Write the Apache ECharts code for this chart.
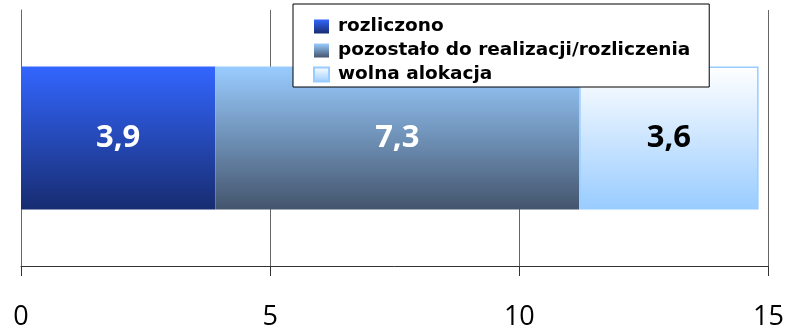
<!DOCTYPE html>
<html>
<head>
<meta charset="utf-8">
<script src="https://cdn.jsdelivr.net/npm/echarts@6/dist/echarts.min.js"></script>
<style>
  html, body { margin: 0; padding: 0; background: #fff; }
  #chart { width: 787px; height: 333px; }
</style>
</head>
<body>
<div id="chart"></div>
<script>
// Stacked horizontal bar: allocation split into three parts
const categories = [''];
const seriesNames = ['rozliczono', 'pozostało do realizacji/rozliczenia', 'wolna alokacja'];
const rozliczono = [3.9];
const pozostalo = [7.3];
const wolna = [3.6];
const xTicks = [0, 5, 10, 15];

const FONT = '"Open Sans", "Noto Sans", sans-serif';
const LEGEND_FONT = '"DejaVu Sans", Verdana, sans-serif';

function grad(top, bottom) {
  return new echarts.graphic.LinearGradient(0, 0, 0, 1, [
    { offset: 0, color: top },
    { offset: 1, color: bottom }
  ]);
}

const fmt = p => String(p.value).replace('.', ',');
const barLabel = color => ({
  show: true, position: 'inside', formatter: fmt,
  fontFamily: FONT, fontWeight: 'bold', fontSize: 31, color: color
});

const chart = echarts.init(document.getElementById('chart'), null, { renderer: 'canvas' });
chart.setOption({
  animation: false,
  grid: { left: 21, right: 18, top: 10, bottom: 67, containLabel: false },
  legend: {
    orient: 'vertical',
    left: 293,
    top: 4,
    padding: [13, 19, 3, 20],
    itemGap: 5,
    itemWidth: 15,
    itemHeight: 14,
    backgroundColor: '#fff',
    borderColor: '#000',
    borderWidth: 1,
    borderRadius: 0,
    z: 10,
    textStyle: { fontFamily: LEGEND_FONT, fontWeight: 'bold', fontSize: 18.5, lineHeight: 18, color: '#000', padding: [0, 0, 0, 4] },
    data: seriesNames.map(n => ({ name: n, icon: 'rect' }))
  },
  xAxis: {
    type: 'value',
    min: xTicks[0],
    max: xTicks[xTicks.length - 1],
    interval: 5,
    axisLine: { show: true, lineStyle: { color: '#333', width: 1 } },
    axisTick: { show: true, length: 10, lineStyle: { color: '#333' } },
    axisLabel: { fontFamily: FONT, fontSize: 27, color: '#000', margin: 38 },
    splitLine: { show: true, lineStyle: { color: '#666', width: 1 } }
  },
  yAxis: {
    type: 'category',
    data: categories,
    axisLine: { show: true, onZero: false, lineStyle: { color: '#666', width: 1 } },
    axisTick: { show: false },
    axisLabel: { show: false }
  },
  series: [
    {
      name: seriesNames[0], type: 'bar', stack: 'total', data: rozliczono, barWidth: 143,
      itemStyle: { color: grad('#3366ff', '#172c70') },
      label: barLabel('#fff')
    },
    {
      name: seriesNames[1], type: 'bar', stack: 'total', data: pozostalo, barWidth: 143,
      itemStyle: { color: grad('#99ccff', '#44556d') },
      label: barLabel('#fff')
    },
    {
      name: seriesNames[2], type: 'bar', stack: 'total', data: wolna, barWidth: 143,
      itemStyle: { color: grad('#ffffff', '#99ccff'), borderColor: '#99ccff', borderWidth: 1.5 },
      label: barLabel('#000')
    }
  ]
});
</script>
</body>
</html>
